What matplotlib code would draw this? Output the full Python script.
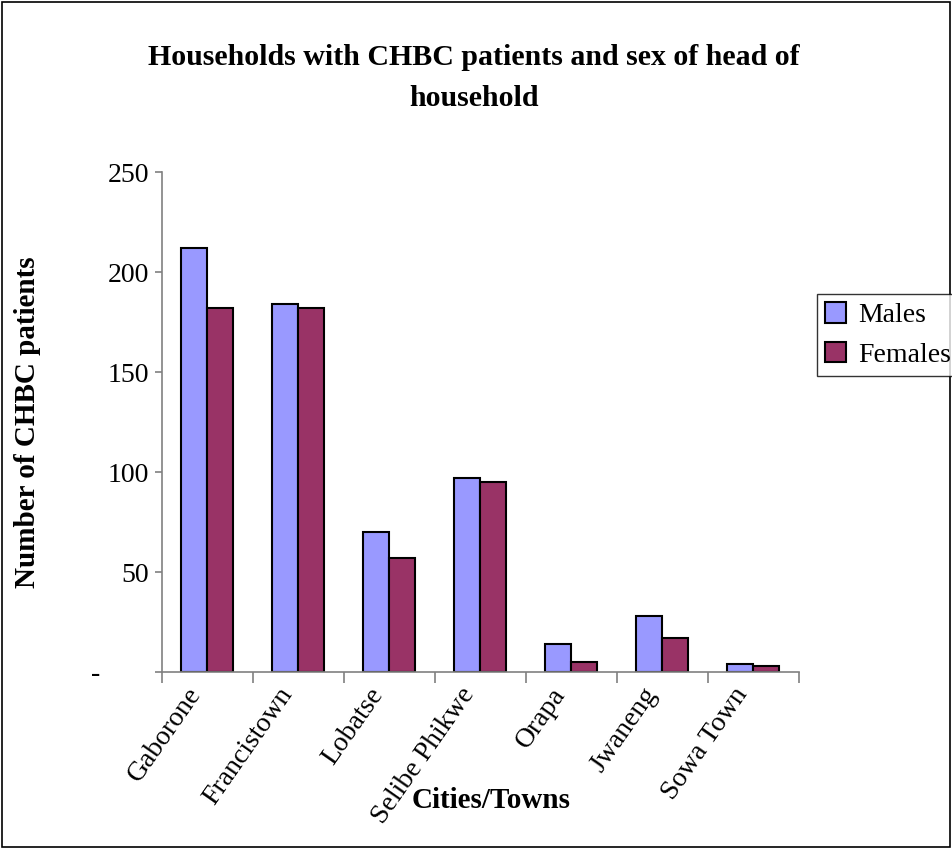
import matplotlib.pyplot as plt
import matplotlib.patches as patches
from matplotlib.transforms import ScaledTranslation
import numpy as np

# data
towns = ['Gaborone', 'Francistown', 'Lobatse', 'Selibe Phikwe', 'Orapa', 'Jwaneng', 'Sowa Town']
males = [212, 184, 70, 97, 14, 28, 4]
females = [182, 182, 57, 95, 5, 17, 3]
yticks = [0, 50, 100, 150, 200, 250]
ytick_labels = ['-       ', '50', '100', '150', '200', '250']

plt.rcParams['font.family'] = ['Liberation Serif', 'DejaVu Serif']

fig = plt.figure(figsize=(9.52, 8.49), dpi=100)
ax = fig.add_axes([0.170, 0.2085, 0.669, 0.5885])

x = np.arange(len(towns))
w = 1 / 3.5
ax.bar(x - w / 2, males, w, color='#9999FF', edgecolor='black', linewidth=1.5, label='Males')
ax.bar(x + w / 2, females, w, color='#993366', edgecolor='black', linewidth=1.5, label='Females')

ax.set_xlim(-0.5, len(towns) - 0.5)
ax.set_ylim(0, 250)
ax.set_yticks(yticks)
ax.set_yticklabels(ytick_labels, fontsize=20)
ax.set_xticks(np.arange(len(towns) + 1) - 0.5)
ax.set_xticklabels([])
ax.set_xticks(x, minor=True)
ax.set_xticklabels(towns, minor=True, rotation=55, ha='right', va='top',
                   rotation_mode='anchor', fontsize=20)
ax.tick_params(axis='x', which='minor', length=0, pad=8)
ax.tick_params(axis='x', which='major', length=8, color='#808080', width=1.2)
ax.tick_params(axis='y', length=5, color='#808080', width=1.2, pad=4)

# shift rotated labels a little to the left, like the original
shift = ScaledTranslation(-21 / 100, 0, fig.dpi_scale_trans)
for lab in ax.get_xticklabels(minor=True):
    lab.set_transform(lab.get_transform() + shift)

for s in ['top', 'right']:
    ax.spines[s].set_visible(False)
for s in ['left', 'bottom']:
    ax.spines[s].set_color('#808080')
    ax.spines[s].set_linewidth(1.2)

fig.text(474 / 952, 1 - 78 / 849, 'Households with CHBC patients and sex of head of\nhousehold',
         ha='center', va='center', fontsize=21.5, fontweight='bold', linespacing=1.65)
fig.text(28 / 952, 1 - 422 / 849, 'Number of CHBC patients', rotation=90,
         ha='center', va='center', fontsize=21, fontweight='bold')
fig.text(491 / 952, 1 - 801 / 849, 'Cities/Towns', ha='center', va='center',
         fontsize=21, fontweight='bold')

leg = fig.legend(loc='center left', bbox_to_anchor=(817 / 952, 1 - 335 / 849),
                 fontsize=20, frameon=True, fancybox=False, handlelength=0.75,
                 handleheight=0.75, handletextpad=0.45, borderpad=0.3,
                 labelspacing=0.5, borderaxespad=0)
leg.get_frame().set_edgecolor('black')
leg.get_frame().set_linewidth(1.0)
for h in leg.legend_handles:
    h.set_linewidth(1.5)

fig.patches.append(patches.Rectangle((0.002, 0.002), 0.996, 0.996, transform=fig.transFigure,
                                     fill=False, edgecolor='black', linewidth=1.2))

fig.savefig('out.png', dpi=100)
